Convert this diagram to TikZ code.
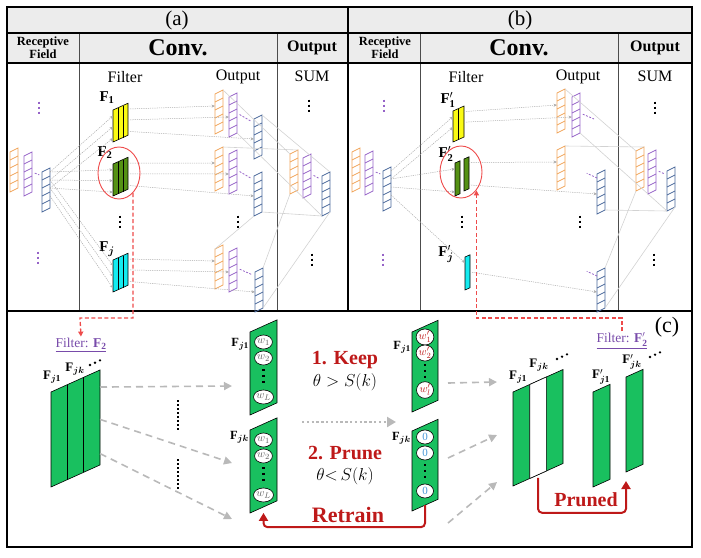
\documentclass[tikz,border=0pt]{standalone}
\usepackage{amsmath,bm}
\usepackage{fontspec}
\setmainfont{Liberation Serif}
\usetikzlibrary{arrows.meta, positioning, shapes.geometric}
\definecolor{cellorange}{RGB}{240,165,90}
\definecolor{cellpurple}{RGB}{150,100,200}
\definecolor{cellblue}{RGB}{75,105,155}
\definecolor{filtyellow}{RGB}{250,250,20}
\definecolor{filtgreen}{RGB}{85,145,20}
\definecolor{filtcyan}{RGB}{20,235,240}
\definecolor{slabgreen}{RGB}{25,192,95}
\definecolor{keepred}{RGB}{190,25,25}
\definecolor{selred}{RGB}{238,75,75}
\definecolor{labpurple}{RGB}{120,75,170}
\definecolor{headgray}{RGB}{236,236,236}
\definecolor{zeroblue}{RGB}{70,150,215}
\definecolor{wgray}{RGB}{95,95,95}

\begin{document}
\begin{tikzpicture}[x=1pt, y=-1pt,
  cellline/.style={line width=0.7pt},
  pics/cellstk/.style={code={
    \draw[#1, cellline] (0,0) -- (8,-4) -- (8,36) -- (0,40) -- cycle;
    \foreach \k in {8,16,24,32} \draw[#1, cellline] (0,\k) -- (8,\k-4);
    \foreach \k in {1,...,5} {
      \coordinate (-w\k) at (0,{8*\k-4});
      \coordinate (-e\k) at (8,{8*\k-8});
    }
    \coordinate (-nw) at (0,0); \coordinate (-ne) at (8,-4);
    \coordinate (-sw) at (0,40); \coordinate (-se) at (8,36);
  }},
  pics/slab/.style n args={4}{code={
    \filldraw[fill=#4, line width=0.6pt] (0,0) -- (#1,{-0.45*#1}) -- (#1,{#2-0.45*#1}) -- (0,#2) -- cycle;
    \ifnum#3>1 \foreach \i in {2,...,#3} \draw[line width=0.6pt] ({(\i-1)*#1/#3},{-0.45*(\i-1)*#1/#3}) -- ++(0,#2);\fi
    \foreach \k/\f in {1/0.18,2/0.52,3/0.88} {
      \coordinate (-w\k) at (0,{\f*#2});
      \coordinate (-e\k) at (#1,{\f*#2-0.45*#1});
    }
    \coordinate (-s) at ({#1/2},{#2-0.225*#1});
    \coordinate (-sw) at (0,#2);
  }},
  pics/vdots/.style={code={\draw[#1, line width=2.6pt, dash pattern=on 2.6pt off 2.4pt] (0,-6.3) -- (0,6.3);}},
  flow/.style={-{Stealth[length=3.5pt,width=3pt]}, gray!65, line width=0.5pt, dash pattern=on 1.2pt off 1pt},
  sumln/.style={gray!35, line width=0.6pt},
  pdash/.style={cellpurple, line width=0.8pt, dash pattern=on 2pt off 1.5pt, shorten <=3pt, shorten >=3pt},
  ttl/.style={font=\fontsize{21}{23}\selectfont},
  hrf/.style={font=\fontsize{12.5}{13}\selectfont\bfseries, align=center},
  hcv/.style={font=\fontsize{24}{26}\selectfont\bfseries},
  hop/.style={font=\fontsize{16}{17}\selectfont\bfseries},
  colhd/.style={font=\fontsize{16}{17}\selectfont},
  flab/.style={font=\fontsize{15}{16}\selectfont, inner sep=0pt},
  sel/.style={draw=selred, ellipse, line width=0.9pt, minimum width=42pt, minimum height=52pt, inner sep=0pt},
  seldash/.style={draw=selred, line width=1.3pt, dash pattern=on 4pt off 2.5pt, -{Triangle[length=5pt,width=5pt]}},
  fname/.style={font=\fontsize{13.5}{14}\selectfont, text=labpurple, inner sep=1pt},
  clab/.style={font=\fontsize{13}{14}\selectfont, inner sep=0pt},
  vlab/.style={font=\fontsize{12.5}{13}\selectfont, inner sep=0pt, anchor=east},
  wcirc/.style={ellipse, draw, fill=white, line width=0.6pt, minimum width=17pt, minimum height=14pt, inner sep=0pt, font=\fontsize{11}{11}\selectfont},
  vdash/.style={line width=2.3pt, dash pattern=on 2.3pt off 3.5pt},
  bigdots/.style={line width=2.4pt, dash pattern=on 2.2pt off 1.8pt},
  bigflow/.style={-{Triangle[length=8pt,width=8pt]}, gray!55, line width=1.6pt, dash pattern=on 7pt off 5pt},
  gdot/.style={-{Triangle[length=9pt,width=10pt]}, gray!55, line width=2.4pt, dash pattern=on 2.4pt off 2.4pt},
  redflow/.style={-{Triangle[length=8pt,width=9pt]}, keepred, line width=2pt, rounded corners=4pt},
  step1/.style={font=\fontsize{20}{22}\selectfont\bfseries, text=keepred},
  cond/.style={font=\fontsize{19}{21}\selectfont}
]
\useasboundingbox (0,0) rectangle (701,557);

\fill[headgray] (7,7) rectangle (692,63);
\draw[gray!60!black, line width=0.8pt] (79,33) -- (79,311) (277,33) -- (277,311) (420,33) -- (420,311) (618,33) -- (618,311);
\draw[line width=1.4pt] (7,33) -- (692,33) (7,63) -- (692,63) (7,311) -- (692,311);
\draw[line width=2.8pt] (348,7) -- (348,311);
\draw[line width=1.4pt] (7,7) rectangle (692,547);

\node[ttl] (ttlA) at (177,20) {(a)};
\node[ttl] (ttlB) at (520,20) {(b)};
\node[hrf] (hrfA) at (43,48) {Receptive\\Field};
\node[hcv] (hcvA) at (178,48) {Conv.};
\node[hop] (hopA) at (312,48) {Output};
\node[hrf] (hrfB) at (385,48) {Receptive\\Field};
\node[hcv] (hcvB) at (519,48) {Conv.};
\node[hop] (hopB) at (655,48) {Output};
\node[colhd] (filtA) at (125,77) {Filter};
\node[colhd] (outA) at (238,77) {Output};
\node[colhd] (sumA) at (312,76) {SUM};
\node[colhd] (filtB) at (466,77) {Filter};
\node[colhd] (outB) at (578,77) {Output};
\node[colhd] (sumB) at (655,76) {SUM};

\pic at (39,108) {vdots=cellpurple};
\pic at (38,258) {vdots=cellpurple};
\pic at (309,106) {vdots=black};
\pic at (312,260) {vdots=black};
\pic at (120,222) {vdots=black};
\pic at (238,222) {vdots=black};
\pic at (384,106) {vdots=cellpurple};
\pic at (383,260) {vdots=cellpurple};
\pic at (655,108) {vdots=black};
\pic at (654,260) {vdots=black};
\pic at (462,222) {vdots=black};
\pic at (580,222) {vdots=black};

\pic (ia1) at (10,152) {cellstk=cellorange};
\pic (ia2) at (24,156) {cellstk=cellpurple};
\pic (ia3) at (42,172) {cellstk=cellblue};
\pic (f1) at (113,110) {slab={15}{32}{3}{filtyellow}};
\pic (f2) at (113,164) {slab={15}{32}{3}{filtgreen}};
\pic (fj) at (113,260) {slab={15}{32}{3}{filtcyan}};
\node[flab] (lf1) at (107,98) {$\mathbf{F}_{\mathbf{1}}$};
\node[flab] (lf2) at (105,153) {$\mathbf{F}_{\mathbf{2}}$};
\node[flab] (lfj) at (107,249) {$\mathbf{F}_{\bm{j}}$};
\pic (oa1) at (215,94) {cellstk=cellorange};
\pic (pa1) at (229,97) {cellstk=cellpurple};
\pic (ba1) at (254,119) {cellstk=cellblue};
\pic (oa2) at (215,151) {cellstk=cellorange};
\pic (pa2) at (229,154) {cellstk=cellpurple};
\pic (ba2) at (254,176) {cellstk=cellblue};
\pic (oa3) at (215,249) {cellstk=cellorange};
\pic (pa3) at (229,252) {cellstk=cellpurple};
\pic (ba3) at (255,272) {cellstk=cellblue};
\pic (osa) at (290,154) {cellstk=cellorange};
\pic (psa) at (303,158) {cellstk=cellpurple};
\pic (bsa) at (322,176) {cellstk=cellblue};

\foreach \k/\m in {1/2,2/3,3/4} {
  \draw[flow] (ia3-e\k) -- (f1-w\k);
  \draw[flow] (ia3-e\k) -- (f2-w\k);
  \draw[flow] (ia3-e\m) -- (fj-w\k);
}
\foreach \r/\f in {1/f1,2/f2,3/fj} {
  \draw[flow] (\f-e1) -- (oa\r-w2);
  \draw[flow] (\f-e2) -- (pa\r-w3);
  \draw[flow] (\f-e3) -- (ba\r-w3);
  \draw[pdash] (pa\r-e3) -- (ba\r-w1);
}
\draw[pdash] (ia2-e3) -- (ia3-w1);
\draw[pdash] (psa-e3) -- (bsa-w1);
\draw[sumln] (oa1-ne) -- (osa-nw) (pa1-se) -- (bsa-sw) (ba1-ne) -- (bsa-ne)
  (oa2-ne) -- (osa-ne) (ba2-se) -- (bsa-sw) (oa3-nw) -- (ba2-sw)
  (ba3-ne) -- (osa-sw) (ba3-se) -- (bsa-se);
\node[sel] (selA) at (119,173) {};

\pic (ib1) at (352,152) {cellstk=cellorange};
\pic (ib2) at (365,155) {cellstk=cellpurple};
\pic (ib3) at (383,171) {cellstk=cellblue};
\pic (g1) at (453,111) {slab={11}{31}{2}{filtyellow}};
\pic (g2a) at (455,163) {slab={5}{33}{1}{filtgreen}};
\pic (g2b) at (464,159) {slab={5}{32}{1}{filtgreen}};
\pic (gj) at (465,257) {slab={5}{33}{1}{filtcyan}};
\node[flab] (lg1) at (448,100) {$\mathbf{F}'_{\mathbf{1}}$};
\node[flab] (lg2) at (446,154) {$\mathbf{F}'_{\mathbf{2}}$};
\node[flab] (lgj) at (446,254) {$\mathbf{F}'_{\bm{j}}$};
\pic (ob1) at (557,93) {cellstk=cellorange};
\pic (pb1) at (572,97) {cellstk=cellpurple};
\pic (ob2) at (557,150) {cellstk=cellorange};
\pic (bb2) at (597,174) {cellstk=cellblue};
\pic (bb3) at (597,272) {cellstk=cellblue};
\pic (osb) at (636,151) {cellstk=cellorange};
\pic (psb) at (648,154) {cellstk=cellpurple};
\pic (bsb) at (667,171) {cellstk=cellblue};

\draw[flow] (ib3-e1) -- (g1-w1);
\draw[flow] (ib3-e2) -- (g1-w2);
\draw[flow] (ib3-e2) -- (g2a-w1);
\draw[flow] (ib3-e3) -- (g2a-w3);
\draw[flow] (ib3-e4) -- (gj-w1);
\draw[flow] (g1-e1) -- (ob1-w2);
\draw[flow] (g1-e2) -- (pb1-w3);
\draw[flow] (g2b-e1) -- (ob2-w2);
\draw[flow] (g2b-e3) -- (bb2-w3);
\draw[flow] (gj-e2) -- (bb3-w3);
\draw[pdash] (ib2-e3) -- (ib3-w1);
\draw[pdash] (psb-e3) -- (bsb-w1);
\draw[pdash, shorten >=0pt] (pb1-e3) -- ++(14,6);
\draw[pdash, shorten <=0pt] (bb2-w1) -- ++(-13,-6);
\draw[pdash, shorten <=0pt] (bb3-w1) -- ++(-13,-6);
\draw[sumln] (ob1-ne) -- (osb-nw) (pb1-se) -- (bsb-sw) (ob2-ne) -- (osb-ne)
  (bb2-se) -- (bsb-sw) (bb3-ne) -- (osb-sw) (bb3-se) -- (bsb-se);
\node[sel] (selB) at (461,172) {};

\node[fname] (filA) at (81,345) {\underline{Filter: $\mathbf{F}_{\mathbf{2}}$}};
\node[fname] (filB) at (622,341) {\underline{Filter: $\mathbf{F}'_{\mathbf{2}}$}};
\coordinate (kinkA) at (80,318);
\coordinate (kinkB) at (622,318);
\draw[seldash] (selA.-55) |- (kinkA) -- (filA.north);
\draw[seldash] (filB.north) -- (kinkB) -| (selB.-50);
\node[font=\fontsize{22}{24}\selectfont] (ttlC) at (667,327) {(c)};

\pic (bigL) at (51,392) {slab={49}{95}{3}{slabgreen}};
\node[clab] (lbl1) at (52,377) {$\mathbf{F}_{\bm{j}\mathbf{1}}$};
\node[clab] (lblk) at (75,369) {$\mathbf{F}_{\bm{j}\bm{k}}$};
\foreach \d in {0,1,2} \fill (90+5*\d,365-2.3*\d) circle (1.3);
\coordinate (tipA) at (232,386);
\coordinate (tipB) at (232,463);
\coordinate (tipC) at (232,519);
\draw[bigflow] (bigL-e1) -- (tipA);
\draw[bigflow] (bigL-e2) -- (tipB);
\draw[bigflow] (bigL-e3) -- (tipC);
\draw[bigdots] (178,400) -- (178,431) (178,459) -- (178,490);

\pic (vaL) at (250,332) {slab={27}{83}{1}{slabgreen}};
\pic (vbL) at (250,430) {slab={27}{83}{1}{slabgreen}};
\pic (vaR) at (412,332) {slab={26}{80}{1}{slabgreen}};
\pic (vbR) at (412,431) {slab={26}{80}{1}{slabgreen}};
\node[vlab] (lva) at (249,344) {$\mathbf{F}_{\bm{j}\mathbf{1}}$};
\node[vlab] (lvb) at (249,437) {$\mathbf{F}_{\bm{j}\bm{k}}$};
\node[vlab] (lvc) at (411,347) {$\mathbf{F}_{\bm{j}\mathbf{1}}$};
\node[vlab] (lvd) at (411,438) {$\mathbf{F}_{\bm{j}\bm{k}}$};
\foreach \v/\y in {vaL/342,vbL/440} {
  \node[wcirc, text=wgray] (\v-c1) at (263.5,\y) {$w_1$};
  \node[wcirc, text=wgray] (\v-c2) at (263.5,\y+16) {$w_2$};
  \node[wcirc, text=wgray] (\v-cL) at (263.5,\y+55) {$w_L$};
  \draw[vdash] (263.5,\y+27) -- (263.5,\y+44);
}
\node[wcirc, text=keepred] (vaR-c1) at (425,337) {$w'_1$};
\node[wcirc, text=keepred] (vaR-c2) at (425,353) {$w'_2$};
\node[wcirc, text=keepred] (vaR-cL) at (425,390) {$w'_l$};
\draw[vdash] (425,364) -- (425,381);
\node[wcirc, text=zeroblue] (vbR-c1) at (425,437) {0};
\node[wcirc, text=zeroblue] (vbR-c2) at (425,453) {0};
\node[wcirc, text=zeroblue] (vbR-cL) at (425,491) {0};
\draw[vdash] (425,464) -- (425,481);

\node[step1] (keep) at (345,360) {1. Keep};
\node[cond] (condK) at (345,382) {$\theta > S(k)$};
\node[step1] (prune) at (345,453) {2. Prune};
\node[cond] (condP) at (345,476) {$\theta{<}\,S(k)$};
\coordinate (dotS) at (302,422);
\coordinate (dotT) at (396,422);
\draw[gdot] (dotS) -- (dotT);
\draw[redflow, shorten >=6pt] (vbR-s) -- ++(0,22) -| (vbL-s);
\node[font=\fontsize{22}{24}\selectfont\bfseries, text=keepred] (retrain) at (348,515) {Retrain};

\coordinate (outA) at (448,383);
\coordinate (outB) at (448,458);
\coordinate (outC) at (448,523);
\coordinate (endA) at (497,382);
\coordinate (endB) at (497,435);
\coordinate (endC) at (497,482);
\draw[bigflow] (outA) -- (endA);
\draw[bigflow] (outB) -- (endB);
\draw[bigflow] (outC) -- (endC);

\pic (bigR) at (513,392) {slab={50}{94}{1}{slabgreen}};
\filldraw[fill=white, line width=0.6pt] (529.7,384.5) -- (546.3,377) -- (546.3,471) -- (529.7,478.5) -- cycle;
\node[clab] (lbr1) at (518,377) {$\mathbf{F}_{\bm{j}\mathbf{1}}$};
\node[clab] (lbrk) at (539,365) {$\mathbf{F}_{\bm{j}\bm{k}}$};
\foreach \d in {0,1,2} \fill (557+5*\d,359-2.3*\d) circle (1.3);
\pic (barA) at (593,392) {slab={17}{95}{1}{slabgreen}};
\pic (barB) at (626,377) {slab={17}{95}{1}{slabgreen}};
\node[clab] (lba) at (601,377) {$\mathbf{F}'_{\bm{j}\mathbf{1}}$};
\node[clab] (lbb) at (632,362) {$\mathbf{F}'_{\bm{j}\bm{k}}$};
\foreach \d in {0,1,2} \fill (650+5*\d,357-2.3*\d) circle (1.3);
\draw[redflow, shorten >=9pt, shorten <=3pt] (bigR-s) -- ++(0,38) -| (barB-sw);
\node[font=\fontsize{20}{22}\selectfont\bfseries, text=keepred] (pruned) at (586,500) {Pruned};
\end{tikzpicture}
\end{document}
